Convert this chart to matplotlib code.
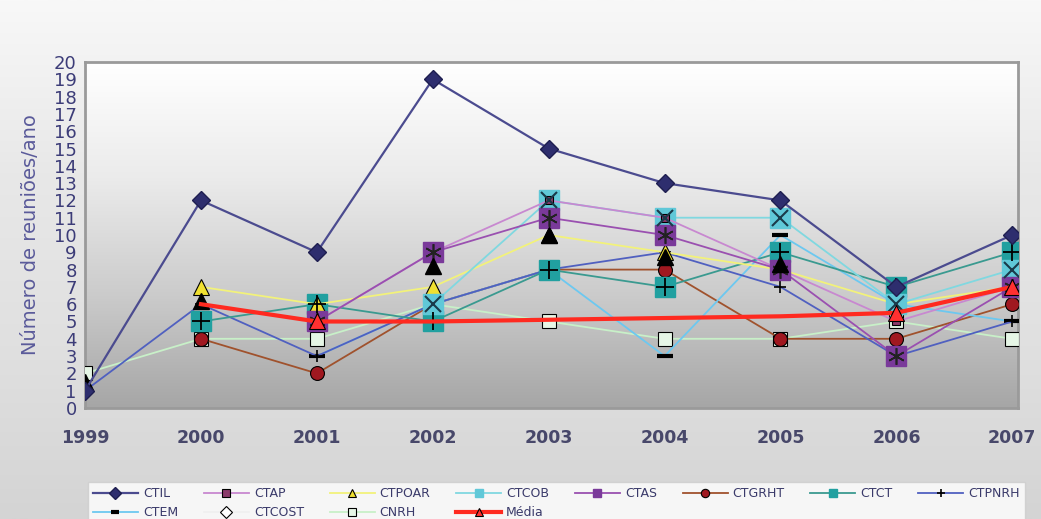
import numpy as np
import matplotlib
matplotlib.use("Agg")
import matplotlib.pyplot as plt
from matplotlib.colors import LinearSegmentedColormap

nan = np.nan

years = [1999, 2000, 2001, 2002, 2003, 2004, 2005, 2006, 2007]

ctil = [1, 12, 9, 19, 15, 13, 12, 7, 10]
ctap = [nan, nan, 5, 9, 12, 11, 8, 5, 7]
ctpoar = [nan, 7, 6, 7, 10, 9, 8, 6, 7]
ctcob = [nan, nan, nan, 6, 12, 11, 11, 6, 8]
ctas = [nan, nan, 5, 9, 11, 10, 8, 3, 7]
ctgrht = [nan, 4, 2, 6, 8, 8, 4, 4, 6]
ctct = [nan, 5, 6, 5, 8, 7, 9, 7, 9]
ctpnrh = [1, 6, 3, 6, 8, 9, 7, 3, 5]
ctem = [nan, nan, 3, 6, 8, 3, 10, 6, 5]
ctcost = [nan, nan, nan, nan, nan, nan, nan, 7, nan]
cnrh = [2, 4, 4, 6, 5, 4, 4, 5, 4]
media = [nan, 6, 5, 5, 5.1, 5.2, 5.3, 5.5, 7]
# loose black triangles seen on the chart (no legend entry)
black_tri = [1.5, 6.2, nan, 8.2, 10, 8.7, 8.3, nan, nan]

fig = plt.figure(figsize=(10.41, 5.19), dpi=100)
fig.patch.set_facecolor("#e0e0e0")

# figure background: light band on top, then grey
bg = fig.add_axes([0, 0, 1, 1], zorder=-10)
bg.axis("off")
bg_cmap = LinearSegmentedColormap.from_list("bg", ["#d4d4d4", "#e0e0e0", "#e8e8e8", "#f8f8f8"])
bg.imshow(np.linspace(0, 1, 256).reshape(-1, 1), cmap=bg_cmap, aspect="auto",
          extent=[0, 1, 0, 1], origin="lower")
bg.set_xlim(0, 1)
bg.set_ylim(0, 1)

ax = fig.add_axes([0.0817, 0.2139, 0.8963, 0.6666])
grad = LinearSegmentedColormap.from_list("g", ["#a6a6a6", "#cccccc", "#ebebeb", "#ffffff"])
ax.imshow(np.linspace(0, 1, 256).reshape(-1, 1), cmap=grad, aspect="auto",
          extent=[0, 1, 0, 1], origin="lower", transform=ax.transAxes, zorder=0)

x = np.array(years)
kw = dict(lw=1.3, zorder=3, markeredgecolor="black", markeredgewidth=0.8)

h_cnrh, = ax.plot(x, cnrh, color="#c8f0c8", marker="s", ms=10, markerfacecolor="#e6f6e6", label="CNRH", **kw)
h_cost, = ax.plot(x, ctcost, color="#f0f0f0", marker="D", ms=8, markerfacecolor="white", label="CTCOST", **kw)
h_grht, = ax.plot(x, ctgrht, color="#a0522d", marker="o", ms=10, markerfacecolor="#a01820", label="CTGRHT", **kw)
h_em, = ax.plot(x, ctem, color="#6cc8f0", marker="_", ms=12, markeredgewidth=3, lw=1.3, zorder=3,
                markeredgecolor="black", label="CTEM")
h_pn, = ax.plot(x, ctpnrh, color="#5060c0", marker="+", ms=8, markeredgewidth=1.2, lw=1.3, zorder=3,
                markeredgecolor="black", label="CTPNRH")
h_ct, = ax.plot(x, ctct, color="#3a9a90", marker="s", ms=15, markerfacecolor="#21a0a0",
                markeredgecolor="#21a0a0", lw=1.3, zorder=3, label="CTCT")
ax.plot(x, ctct, ls="none", marker="+", ms=13, markeredgecolor="black", markeredgewidth=1.3, zorder=4)
h_po, = ax.plot(x, ctpoar, color="#f2f27a", marker="^", ms=12, markerfacecolor="#f0e030", label="CTPOAR", **kw)
h_cob, = ax.plot(x, ctcob, color="#80d8e0", marker="s", ms=15, markerfacecolor="#60c8d8",
                 markeredgecolor="#60c8d8", lw=1.3, zorder=3, label="CTCOB")
ax.plot(x, ctcob, ls="none", marker="x", ms=12, markeredgecolor="#1a3a4a", markeredgewidth=1.5, zorder=4)
h_ap, = ax.plot(x, ctap, color="#c888d0", marker="s", ms=6, markerfacecolor="#8b3a6b", label="CTAP", **kw)
h_as, = ax.plot(x, ctas, color="#9a50b0", marker="s", ms=15, markerfacecolor="#7a3a9a",
                markeredgecolor="#7a3a9a", lw=1.3, zorder=3, label="CTAS")
ax.plot(x, ctas, ls="none", marker=(6, 2, 0), ms=12, markeredgecolor="#222222", markeredgewidth=1.2, zorder=4)
ax.plot(x, black_tri, ls="none", marker="^", ms=11, markerfacecolor="black", markeredgecolor="black", zorder=4)
h_med, = ax.plot(x, media, color="#ff2a20", lw=3, marker="^", ms=12, markevery=[2, 7, 8],
                 markerfacecolor="#ff3030", markeredgecolor="black", markeredgewidth=0.8, zorder=5, label="Média")
h_til, = ax.plot(x, ctil, color="#4b4b8f", lw=1.6, marker="D", ms=9, markerfacecolor="#2e2e6e",
                 markeredgecolor="#1e1e50", zorder=6, label="CTIL")

ax.set_xlim(1999, 2007.05)
ax.set_ylim(0, 20)
ax.set_xticks(years)
ax.set_yticks(range(0, 21))
ax.tick_params(axis="both", length=0)
ax.tick_params(axis="y", pad=6, labelsize=13, labelcolor="#3c3c78")
ax.tick_params(axis="x", pad=15, labelsize=12.5, labelcolor="#48486a")
for lab in ax.get_xticklabels():
    lab.set_fontweight("bold")
for s in ax.spines.values():
    s.set_color("#9a9a9a")
    s.set_linewidth(2)

fig.text(0.029, 0.5472, "Número de reuniões/ano", rotation=90, ha="center", va="center",
         fontsize=14, color="#5a5a9a")

order = [h_til, h_em, h_ap, h_cost, h_po, h_cnrh, h_cob, h_med, h_as, h_grht, h_ct, h_pn]
leg = fig.legend(handles=order, labels=[h.get_label() for h in order], ncol=8,
                 loc="lower left", bbox_to_anchor=(0.0845, -0.01, 0.9, 0.10), mode="expand",
                 fontsize=9, handlelength=3.6, frameon=True, fancybox=False,
                 borderaxespad=0, columnspacing=0.8, handletextpad=0.4, labelspacing=0.5,
                 labelcolor="#3a3a6a")
leg.get_frame().set_facecolor("white")
leg.get_frame().set_edgecolor("#cccccc")
for h in leg.legend_handles:
    h.set_markersize(6)

fig.savefig("out.png", dpi=100, facecolor=fig.get_facecolor())
